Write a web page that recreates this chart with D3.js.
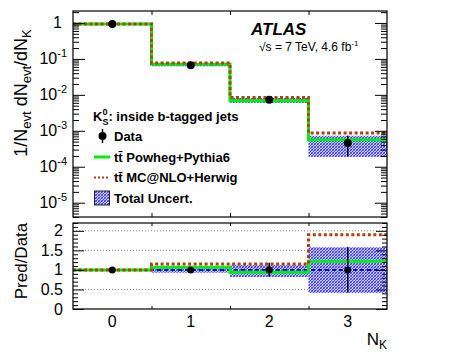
<!DOCTYPE html>
<html><head><meta charset="utf-8">
<script src="https://cdn.jsdelivr.net/npm/d3@7"></script>
<style>body{margin:0;background:#fff}svg{display:block}text{font-family:"Liberation Sans",Arial,Helvetica,sans-serif}</style>
</head><body>
<svg id="c" width="456" height="354"></svg>
<script>
// ---- data ----
const bins = [0, 1, 2, 3];
const dataVals = [0.93, 0.067, 0.0073, 0.00046];
const powhegVals = [0.93, 0.071, 0.0069, 0.00056];
const mcnloVals = [0.93, 0.077, 0.0084, 0.00087];
const bandRelLow = [0.98, 0.93, 0.82, 0.41];
const bandRelHigh = [1.02, 1.07, 1.13, 1.58];
const dataRelErr = [0.01, 0.03, 0.18, 0.58];
const powhegRatio = [1.0, 1.07, 0.94, 1.22];
const mcnloRatio = [1.0, 1.15, 1.15, 1.9];
const upperExps = [0, -1, -2, -3, -4, -5];
const lowerTicks = [0, 0.5, 1, 1.5, 2];
const lowerTickLabels = ["0", "0.5", "1", "1.5", "2"];
const gridVals = [0.5, 1, 1.5, 2];
const xTickLabels = ["0", "1", "2", "3"];

const svg = d3.select("#c");
const L = 73, R = 387, T1 = 11, B1 = 217, T2 = 223, B2 = 309;
const x = d3.scaleLinear([-0.5, 3.5], [L, R]);
const yTop = d3.scaleLog([4e-6, 2.15], [B1, T1]);
const yBot = d3.scaleLinear([0, 2.2], [B2, T2]);

const defs = svg.append("defs");
const pat = defs.append("pattern").attr("id", "hatch").attr("patternUnits", "userSpaceOnUse")
  .attr("width", 3).attr("height", 3);
pat.append("rect").attr("width", 3).attr("height", 3).attr("fill", "#c8c8ff");
pat.append("path").attr("d", "M0,3 L3,0 M-1,1 L1,-1 M2,4 L4,2").attr("stroke", "#2f2fff").attr("stroke-width", 0.9);
pat.append("path").attr("d", "M0,0 L3,3 M-1,2 L1,4 M2,-1 L4,1").attr("stroke", "#4a4aff").attr("stroke-width", 0.7);
["c1", "c2"].forEach((id, i) => {
  defs.append("clipPath").attr("id", id).append("rect")
    .attr("x", L).attr("y", i ? T2 : T1).attr("width", R - L).attr("height", i ? B2 - T2 : B1 - T1);
});

function stepPath(vals, ys) {
  const pts = bins.map((b, i) => [x(b - 0.5), ys(vals[i])]);
  pts.push([x(3.5), ys(vals[3])]);
  return d3.line().curve(d3.curveStepAfter)(pts);
}

// ---------- upper panel ----------
const g1 = svg.append("g").attr("clip-path", "url(#c1)");
g1.selectAll("rect.band").data(bins).join("rect")
  .attr("x", d => x(d - 0.5)).attr("width", x(1) - x(0))
  .attr("y", (d, i) => yTop(dataVals[i] * bandRelHigh[i]))
  .attr("height", (d, i) => yTop(dataVals[i] * bandRelLow[i]) - yTop(dataVals[i] * bandRelHigh[i]))
  .attr("fill", "url(#hatch)");
g1.append("path").attr("d", stepPath(powhegVals, yTop)).attr("fill", "none")
  .attr("stroke", "#00ee00").attr("stroke-width", 3);
g1.append("path").attr("d", stepPath(mcnloVals, yTop)).attr("fill", "none")
  .attr("stroke", "#b0400f").attr("stroke-width", 3).attr("stroke-dasharray", "3,2.5");
g1.selectAll("line.err").data(bins).join("line")
  .attr("x1", d => x(d)).attr("x2", d => x(d))
  .attr("y1", (d, i) => yTop(dataVals[i] * (1 + dataRelErr[i])))
  .attr("y2", (d, i) => yTop(dataVals[i] * (1 - dataRelErr[i])))
  .attr("stroke", "#000").attr("stroke-width", 1.5);
g1.selectAll("circle").data(bins).join("circle")
  .attr("cx", d => x(d)).attr("cy", (d, i) => yTop(dataVals[i])).attr("r", 4).attr("fill", "#000");

// axes upper
const allLog = yTop.ticks(50).filter(v => v >= 1e-6 && v <= 2.15);
const majLog = upperExps.map(e => Math.pow(10, e));
const minLog = allLog.filter(v => !majLog.some(m => Math.abs(v / m - 1) < 1e-6));
function axisTicks(g, scale, orient, vals, size) {
  const ax = (orient === "left" ? d3.axisLeft(scale) : d3.axisRight(scale))
    .tickValues(vals).tickSize(-size).tickFormat("");
  g.call(ax);
  g.select(".domain").remove();
  g.selectAll(".tick line").attr("stroke", "#000").attr("stroke-width", 1);
}
axisTicks(svg.append("g").attr("transform", `translate(${L},0)`), yTop, "left", majLog, 12);
axisTicks(svg.append("g").attr("transform", `translate(${L},0)`), yTop, "left", minLog, 6);
axisTicks(svg.append("g").attr("transform", `translate(${R},0)`), yTop, "right", majLog, 12);
axisTicks(svg.append("g").attr("transform", `translate(${R},0)`), yTop, "right", minLog, 6);
function xTicks(yPos, dir, len) {
  const g = svg.append("g").attr("transform", `translate(0,${yPos})`);
  const ax = (dir === "top" ? d3.axisTop(x) : d3.axisBottom(x)).tickValues([0.5, 1.5, 2.5]).tickSize(-len).tickFormat("");
  g.call(ax); g.select(".domain").remove();
  g.selectAll(".tick line").attr("stroke", "#000");
}
xTicks(T1, "top", 4); xTicks(B1, "bottom", 4);
xTicks(T2, "top", 3); xTicks(B2, "bottom", 3);

upperExps.forEach(e => {
  const yy = yTop(Math.pow(10, e));
  if (e === 0) {
    svg.append("text").attr("x", 62).attr("y", yy + 5.5).attr("text-anchor", "end")
      .attr("font-size", 16).text("1");
  } else {
    const t = svg.append("text").attr("x", 67).attr("y", yy + 5.5).attr("text-anchor", "end").attr("font-size", 16);
    t.append("tspan").text("10");
    t.append("tspan").attr("dy", -7).attr("font-size", 11).text(String(e).replace("-", "-"));
  }
});
svg.append("rect").attr("x", L).attr("y", T1).attr("width", R - L).attr("height", B1 - T1)
  .attr("fill", "none").attr("stroke", "#000").attr("stroke-width", 1.2);

// y label upper
const yl = svg.append("text").attr("transform", "translate(27,93) rotate(-90)").attr("text-anchor", "middle").attr("font-size", 18);
yl.append("tspan").text("1/N");
yl.append("tspan").attr("font-size", 13).attr("dy", 4).text("evt");
yl.append("tspan").attr("dy", -4).text(" dN");
yl.append("tspan").attr("font-size", 13).attr("dy", 4).text("evt");
yl.append("tspan").attr("dy", -4).text("/dN");
yl.append("tspan").attr("font-size", 13).attr("dy", 4).text("K");

// ATLAS text
svg.append("text").attr("x", 251).attr("y", 35).attr("font-size", 17).attr("font-weight", "bold")
  .attr("font-style", "italic").text("ATLAS");
const en = svg.append("text").attr("x", 259).attr("y", 51).attr("font-size", 12);
en.append("tspan").text("√s = 7 TeV, 4.6 fb");
en.append("tspan").attr("dy", -5).attr("font-size", 8).text("-1");

// legend
const lt = svg.append("text").attr("x", 93).attr("y", 121).attr("font-size", 13).attr("font-weight", "bold");
lt.append("tspan").text("K");
lt.append("tspan").attr("font-size", 9).attr("dy", -6).text("0");
lt.append("tspan").attr("font-size", 9).attr("dx", -5).attr("dy", 10).text("S");
lt.append("tspan").attr("dy", -4).text(": inside b-tagged jets");
const legY = [136, 157, 177.5, 198];
const legNames = ["Data", "tt\u0304 Powheg+Pythia6", "tt\u0304 MC@NLO+Herwig", "Total Uncert."];
legNames.forEach((n, i) => {
  svg.append("text").attr("x", 114).attr("y", legY[i] + 4.5).attr("font-size", 13).attr("font-weight", "bold").text(n);
});
svg.append("line").attr("x1", 102.5).attr("x2", 102.5).attr("y1", legY[0] - 7).attr("y2", legY[0] + 7).attr("stroke", "#000").attr("stroke-width", 1.5);
svg.append("circle").attr("cx", 102.5).attr("cy", legY[0]).attr("r", 4).attr("fill", "#000");
svg.append("line").attr("x1", 94).attr("x2", 110).attr("y1", legY[1]).attr("y2", legY[1]).attr("stroke", "#00ee00").attr("stroke-width", 3);
svg.append("line").attr("x1", 94).attr("x2", 110).attr("y1", legY[2]).attr("y2", legY[2]).attr("stroke", "#b0400f").attr("stroke-width", 2).attr("stroke-dasharray", "2,2");
svg.append("rect").attr("x", 94.5).attr("y", legY[3] - 7).attr("width", 15).attr("height", 14)
  .attr("fill", "url(#hatch)").attr("stroke", "#223").attr("stroke-width", 1);

// ---------- lower panel ----------
const g2 = svg.append("g").attr("clip-path", "url(#c2)");
g2.selectAll("line.grid").data(gridVals).join("line")
  .attr("x1", L).attr("x2", R).attr("y1", d => yBot(d)).attr("y2", d => yBot(d))
  .attr("stroke", "#888").attr("stroke-width", 1).attr("stroke-dasharray", "1,2");
g2.selectAll("rect.band").data(bins).join("rect")
  .attr("x", d => x(d - 0.5)).attr("width", x(1) - x(0))
  .attr("y", (d, i) => yBot(bandRelHigh[i]))
  .attr("height", (d, i) => yBot(bandRelLow[i]) - yBot(bandRelHigh[i]))
  .attr("fill", "url(#hatch)");
g2.append("path").attr("d", stepPath(bins.map(() => 1), yBot)).attr("fill", "none")
  .attr("stroke", "#0000ff").attr("stroke-width", 2).attr("stroke-dasharray", "4,3");
g2.append("path").attr("d", stepPath(powhegRatio, yBot)).attr("fill", "none")
  .attr("stroke", "#00ee00").attr("stroke-width", 3);
g2.append("path").attr("d", stepPath(mcnloRatio, yBot)).attr("fill", "none")
  .attr("stroke", "#b0400f").attr("stroke-width", 3).attr("stroke-dasharray", "3,2.5");
g2.selectAll("line.err").data(bins).join("line")
  .attr("x1", d => x(d)).attr("x2", d => x(d))
  .attr("y1", (d, i) => yBot(1 + dataRelErr[i])).attr("y2", (d, i) => yBot(1 - dataRelErr[i]))
  .attr("stroke", "#000").attr("stroke-width", 1.5);
g2.selectAll("circle").data(bins).join("circle")
  .attr("cx", d => x(d)).attr("cy", yBot(1)).attr("r", 3.5).attr("fill", "#000");

const minLin = d3.range(0, 2.21, 0.1).filter(v => Math.abs(v * 2 - Math.round(v * 2)) > 1e-6);
axisTicks(svg.append("g").attr("transform", `translate(${L},0)`), yBot, "left", lowerTicks, 11);
axisTicks(svg.append("g").attr("transform", `translate(${L},0)`), yBot, "left", minLin, 5);
axisTicks(svg.append("g").attr("transform", `translate(${R},0)`), yBot, "right", lowerTicks, 11);
axisTicks(svg.append("g").attr("transform", `translate(${R},0)`), yBot, "right", minLin, 5);
lowerTicks.forEach((v, i) => {
  svg.append("text").attr("x", 63).attr("y", yBot(v) + 5.5).attr("text-anchor", "end")
    .attr("font-size", 16).text(lowerTickLabels[i]);
});
svg.append("rect").attr("x", L).attr("y", T2).attr("width", R - L).attr("height", B2 - T2)
  .attr("fill", "none").attr("stroke", "#000").attr("stroke-width", 1.2);

bins.forEach((b, i) => {
  svg.append("text").attr("x", x(b)).attr("y", 327).attr("text-anchor", "middle")
    .attr("font-size", 16).text(xTickLabels[i]);
});
const xl = svg.append("text").attr("x", 387).attr("y", 345).attr("text-anchor", "end").attr("font-size", 17);
xl.append("tspan").text("N");
xl.append("tspan").attr("font-size", 12).attr("dy", 4).text("K");
svg.append("text").attr("transform", "translate(27,261) rotate(-90)").attr("text-anchor", "middle")
  .attr("font-size", 17).text("Pred/Data");
</script>
</body></html>
